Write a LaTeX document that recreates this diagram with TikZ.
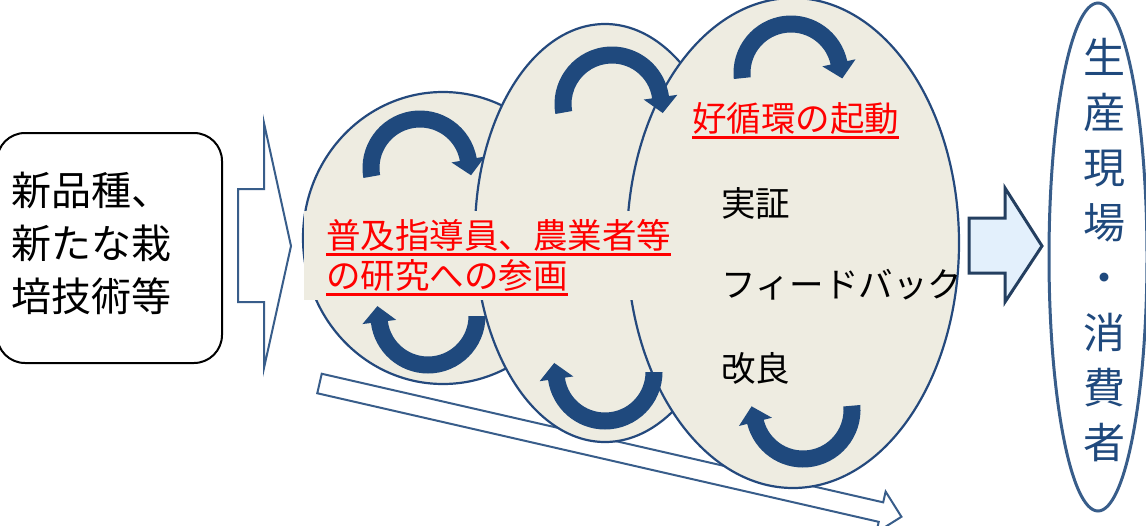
\documentclass[tikz,border=0pt]{standalone}
\usepackage{fontspec}
\newfontfamily\jp{Noto Sans CJK JP}
\usetikzlibrary{calc,shapes.geometric}
\definecolor{bgtwo}{HTML}{EEECE1}
\definecolor{darkblue}{HTML}{1F497D}
\definecolor{ellline}{HTML}{24497D}
\definecolor{midblue}{HTML}{385D8A}
\definecolor{lightblue}{HTML}{E3F0FC}
\definecolor{arrowedge}{HTML}{243F60}
\newcommand\myul[1]{\setbox0=\hbox{#1}\rlap{\rule[-7.5pt]{\wd0}{3pt}}\box0}
\newcommand\cycarrow[4]{%
  \fill[darkblue] ($(#1,#2)+(#3:57.5)$) arc[start angle=#3, end angle=#4, radius=57.5]
    -- ($(#1,#2)+(#4:66)$) -- ($(#1,#2)+(#4:49)+(#4+90:16)$) -- ($(#1,#2)+(#4:32)$)
    -- ($(#1,#2)+(#4:40.5)$) arc[start angle=#4, end angle=#3, radius=40.5] -- cycle;}
\begin{document}
\begin{tikzpicture}[x=1pt,y=-1pt,
  ell/.style={ellipse, draw=ellline, line width=2.2pt, fill=bgtwo, inner sep=0pt},
  redtxt/.style={font=\jp\fontsize{34.5}{40}\selectfont, text=red, inner sep=0pt},
  blacktxt/.style={font=\jp\fontsize{34.5}{40}\selectfont, text=black, inner sep=0pt},
  outarrow/.style={draw=midblue, line width=2pt, fill=white, line join=miter}]
\useasboundingbox (0,0) rectangle (1146,525);

% long bottom arrow
\begin{scope}[shift={(319.5,383.5)}, rotate=-12.9]
  \draw[outarrow] (0,-10) -- (576,-10) -- (576,-21) -- (597,0) -- (576,21) -- (576,10) -- (0,10) -- cycle;
\end{scope}

% left box
\node[draw=black, line width=2pt, rounded corners=28pt, fill=white, minimum width=225pt, minimum height=230pt, inner sep=0pt] (box) at (109.5,248) {};
\node[font=\jp\fontsize{40}{53}\selectfont, align=left, anchor=west, inner sep=0pt] (boxtext) at (11,243) {新品種、\\新たな栽\\培技術等};

% left outline arrow
\draw[outarrow] (238,189) -- (264,189) -- (264,123) -- (291,246) -- (264,368) -- (264,302) -- (238,302) -- cycle;

% ellipses
\node[ell, minimum width=280pt, minimum height=292pt] (e1) at (443,238) {};
\node[ell, minimum width=260pt, minimum height=418pt] (e2) at (605,233) {};
\node[ell, minimum width=332pt, minimum height=490pt] (e3) at (793,243) {};

% text background
\fill[bgtwo] (304,211) rectangle (692,300);

% cycle arrows
\cycarrow{420}{168}{170}{350}
\cycarrow{428}{316}{0}{173}
\cycarrow{612}{104}{170}{352}
\cycarrow{605}{372}{0}{172}
\cycarrow{791}{73}{174}{348}
\cycarrow{803}{410}{-5}{166}

% texts
\node[redtxt, anchor=base west] (p1) at (326,248) {\myul{普及指導員、農業者等}};
\node[redtxt, anchor=base west] (p2) at (326,288) {\myul{の研究への参画}};
\node[redtxt, anchor=base west] (k) at (692,131) {\myul{好循環の起動}};
\node[blacktxt, anchor=west] (t1) at (721,203) {実証};
\node[blacktxt, anchor=west] (t2) at (721,285) {フィードバック};
\node[blacktxt, anchor=west] (t3) at (721,368) {改良};

% blue block arrow
\draw[draw=arrowedge, line width=3pt, fill=lightblue, line join=miter] (969,218) -- (1005,218) -- (1005,188) -- (1042,246) -- (1005,302) -- (1005,273) -- (969,273) -- cycle;

% right ellipse
\node[ellipse, draw=midblue, line width=3pt, minimum width=98pt, minimum height=508pt, inner sep=0pt] (target) at (1098,257) {};
\node[font=\jp\fontsize{42}{55}\selectfont, text=darkblue, align=center, inner sep=0pt] (tt) at (1104,250) {生\\産\\現\\場\\・\\消\\費\\者};
\end{tikzpicture}
\end{document}
